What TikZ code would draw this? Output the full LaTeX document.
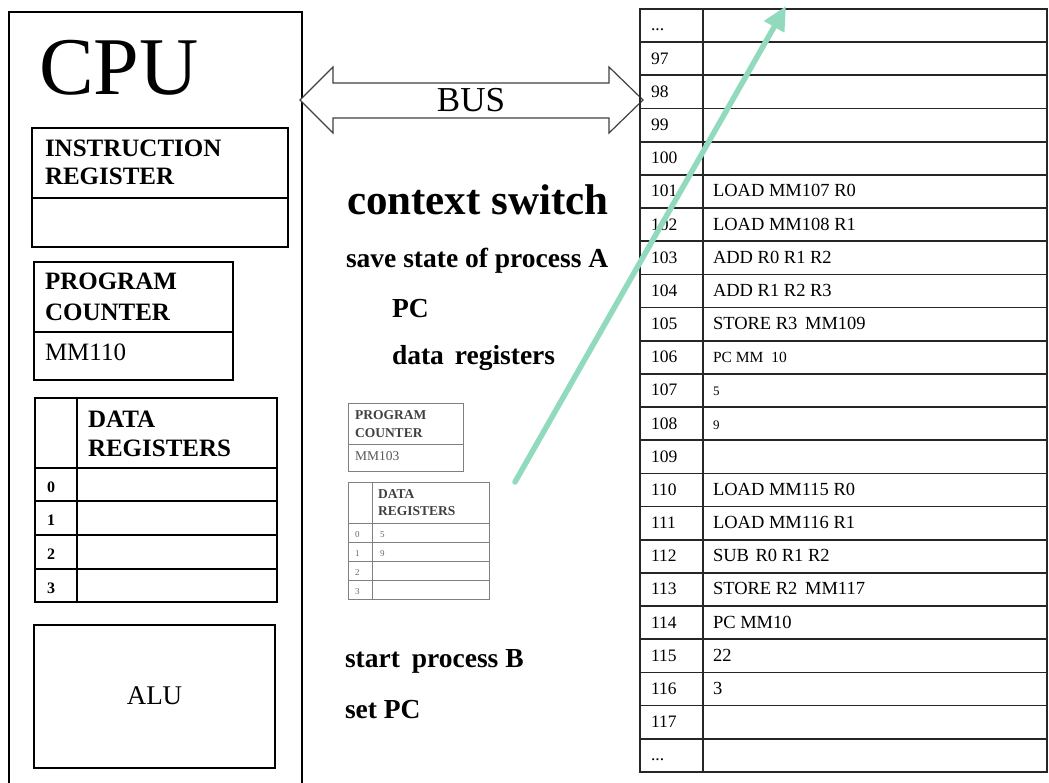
\documentclass[tikz,border=0pt]{standalone}
\usepackage{fontspec}
\setmainfont{Liberation Serif}
\usetikzlibrary{arrows.meta}
\definecolor{mint}{RGB}{146,218,190}
\newcommand\setfs[1]{\fontsize{#1}{#1}\selectfont}
\newcommand\elide{.\kern0pt.\kern0pt.}
\begin{document}
\begin{tikzpicture}[x=1pt,y=-1pt,
  box/.style={draw=black, line width=1.4pt},
  grid/.style={draw=black!85, line width=1.7pt},
  thin/.style={draw=black!50, line width=0.9pt},
  lbl/.style={anchor=base west, inner sep=0pt, outer sep=0pt},
  head/.style={lbl, font=\bfseries\setfs{25}},
  note/.style={lbl, font=\bfseries\setfs{27.5}},
  tiny/.style={lbl, font=\bfseries\setfs{13.5}, text=black!75},
  busarrow/.style={draw=black!75, line width=1.2pt, fill=white}]
\useasboundingbox (0,0) rectangle (1049,783);

% ---------- CPU ----------
\draw[box] (9,795) -- (9,12) -- (302,12) -- (302,795);
\node[lbl, font=\setfs{82}] (cpu) at (39,95) {CPU};

% instruction register
\draw[box] (32,128) rectangle (288,247);
\draw[box] (32,198) -- (288,198);
\node[head] (ir1) at (45,157) {INSTRUCTION};
\node[head] (ir2) at (45,185) {REGISTER};

% program counter
\draw[box] (34,262) rectangle (233,380);
\draw[box] (34,332) -- (233,332);
\node[head] (pc1) at (45,290) {PROGRAM};
\node[head] (pc2) at (45,321) {COUNTER};
\node[lbl, font=\setfs{25}] (pcval) at (45,360) {MM110};

% data registers
\draw[box] (35,398) rectangle (277,602);
\draw[box] (77,398) -- (77,602);
\foreach \y in {468,501,535,569} \draw[box] (35,\y) -- (277,\y);
\node[head] (dr1) at (88,427) {DATA};
\node[head] (dr2) at (88,456) {REGISTERS};
\foreach \r/\y in {0/492,1/525,2/559,3/593}
  \node[lbl, font=\bfseries\setfs{16}] (reg\r) at (47,\y) {\r};

% ALU
\draw[box] (34,625) rectangle (275,768);
\node[font=\setfs{27}, inner sep=0pt] (alu) at (154.5,696) {ALU};

% ---------- BUS ----------
\coordinate (busL) at (300,100);
\coordinate (busR) at (643,100);
\draw[busarrow] (busL) -- ++(33,-33) -- ++(0,16) -- (609,83) -- (609,67)
  -- (busR) -- (609,133) -- (609,118) -- (333,118) -- (333,133) -- cycle;
\node[anchor=base, inner sep=0pt, font=\setfs{35}] (bus) at (471,112) {BUS};

% ---------- context switch notes ----------
\node[lbl, font=\bfseries\setfs{43}] (cs) at (347,215) {context switch};
\node[note] (save) at (346,268) {save state of process A};
\node[note] (savepc) at (392,318) {PC};
\node[note] (savedr) at (392,365) {data\hspace{4pt} registers};
\node[note] (startb) at (345,667) {start\hspace{5pt} process B};
\node[note] (setpc) at (345,718) {set PC};

% saved program counter
\draw[thin] (348,403) rectangle (463,471);
\draw[thin] (348,444) -- (463,444);
\node[tiny] (spc1) at (355,419) {PROGRAM};
\node[tiny] (spc2) at (355,437) {COUNTER};
\node[lbl, font=\setfs{13.5}, text=black!65] (spcval) at (355,460) {MM103};

% saved data registers
\draw[thin] (348,482) rectangle (489,599);
\draw[thin] (372,482) -- (372,599);
\foreach \y in {523,542,561,580} \draw[thin] (348,\y) -- (489,\y);
\node[tiny] (sdr1) at (378,498) {DATA};
\node[tiny] (sdr2) at (378,515) {REGISTERS};
\foreach \r/\y/\v in {0/537/5,1/556/9,2/575/{},3/594/{}} {
  \node[lbl, font=\setfs{9}, text=black!60] (sreg\r) at (355,\y) {\r};
  \node[lbl, font=\setfs{9}, text=black!60] (sval\r) at (380,\y) {\v};
}

% ---------- main memory ----------
\def\rh{33.17}
\draw[grid] (640,9) rectangle (1047,772);
\draw[grid] (703,9) -- (703,772);
\foreach \k in {1,...,22} \draw[grid] (640,9+\k*\rh) -- (1047,9+\k*\rh);
\foreach \k/\a/\c/\s in {
  0/\elide/{}/18.5, 1/97/{}/18.5, 2/98/{}/18.5, 3/99/{}/18.5, 4/100/{}/18.5,
  5/101/LOAD MM107 R0/18.5, 6/102/LOAD MM108 R1/18.5,
  7/103/ADD R0 R1 R2/18.5, 8/104/ADD R1 R2 R3/18.5,
  9/105/{STORE R3\hspace{3pt} MM109}/18.5, 10/106/{PC MM\hspace{4pt} 10}/15.5,
  11/107/5/13, 12/108/9/13, 13/109/{}/18.5,
  14/110/LOAD MM115 R0/18.5, 15/111/LOAD MM116 R1/18.5,
  16/112/{SUB\hspace{2pt} R0 R1 R2}/18.5, 17/113/{STORE R2\hspace{3pt} MM117}/18.5,
  18/114/PC MM10/18.5, 19/115/22/18.5, 20/116/3/18.5, 21/117/{}/18.5,
  22/\elide/{}/18.5} {
  \node[lbl, font=\setfs{17.5}] (addr\k) at (651,9+\k*\rh+22) {\a};
  \node[lbl, font=\setfs{\s}] (word\k) at (713,9+\k*\rh+22) {\c};
}

% ---------- save arrow into memory ----------
\coordinate (arrS) at (515,482);
\coordinate (arrE) at (786,6);
\draw[mint, line width=5.5pt, line cap=round,
  -{Triangle[length=24pt, width=22pt]}] (arrS) -- (arrE);
\end{tikzpicture}
\end{document}
